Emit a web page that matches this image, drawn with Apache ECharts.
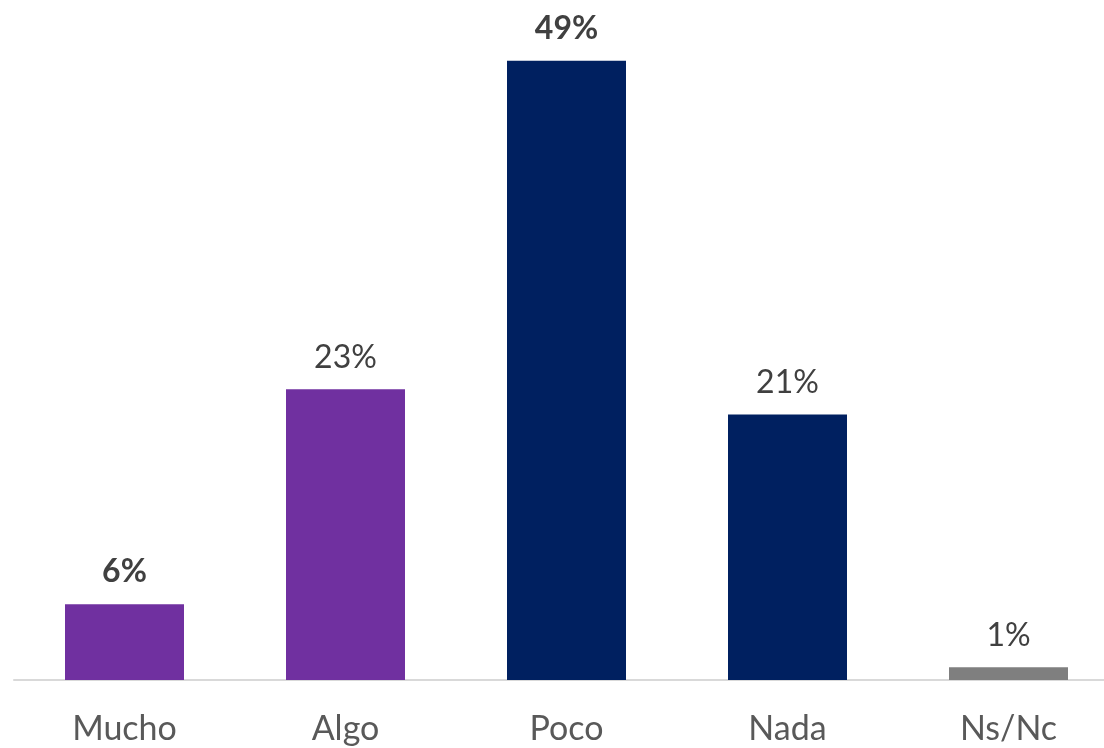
<!DOCTYPE html>
<html>
<head>
<meta charset="utf-8">
<script src="https://cdn.jsdelivr.net/npm/echarts@6/dist/echarts.min.js"></script>
<style>
html,body{margin:0;padding:0;background:#fff;overflow:hidden;}
#main{width:1119px;height:748px;}
</style>
</head>
<body>
<div id="main"></div>
<script>
// datos
var categorias = ['Mucho', 'Algo', 'Poco', 'Nada', 'Ns/Nc'];
var valores = [6, 23, 49, 21, 1];
var colores = ['#7030A0', '#7030A0', '#002060', '#002060', '#7F7F7F'];
var negrita = [true, false, true, false, false];

var myChart = echarts.init(document.getElementById('main'));

var datos = [];
for (var i = 0; i < valores.length; i++) {
	datos.push({
		value: valores[i],
		itemStyle: { color: colores[i] },
		label: { fontWeight: negrita[i] ? 'bold' : 'normal' }
	});
}

// el lienzo es mas ancho que la ventana: la ultima categoria sale por la derecha
var option = {
	animation: false,
	grid: { left: 14, top: 48, right: 0, bottom: 68, containLabel: false },
	xAxis: {
		type: 'category',
		data: categorias,
		axisLine: { lineStyle: { color: '#D9D9D9', width: 2 } },
		axisTick: { show: false },
		axisLabel: { color: '#595959', fontSize: 34, fontFamily: 'Lato', margin: 32 }
	},
	yAxis: {
		type: 'value',
		min: 0,
		max: 50,
		show: false,
		splitLine: { show: false }
	},
	series: [{
		type: 'bar',
		data: datos,
		barWidth: 119,
		label: {
			show: true,
			position: 'top',
			distance: 16,
			color: '#404040',
			fontSize: 32,
			fontFamily: 'Lato',
			formatter: '{c}%'
		}
	}]
};
myChart.setOption(option);
</script>
</body>
</html>
